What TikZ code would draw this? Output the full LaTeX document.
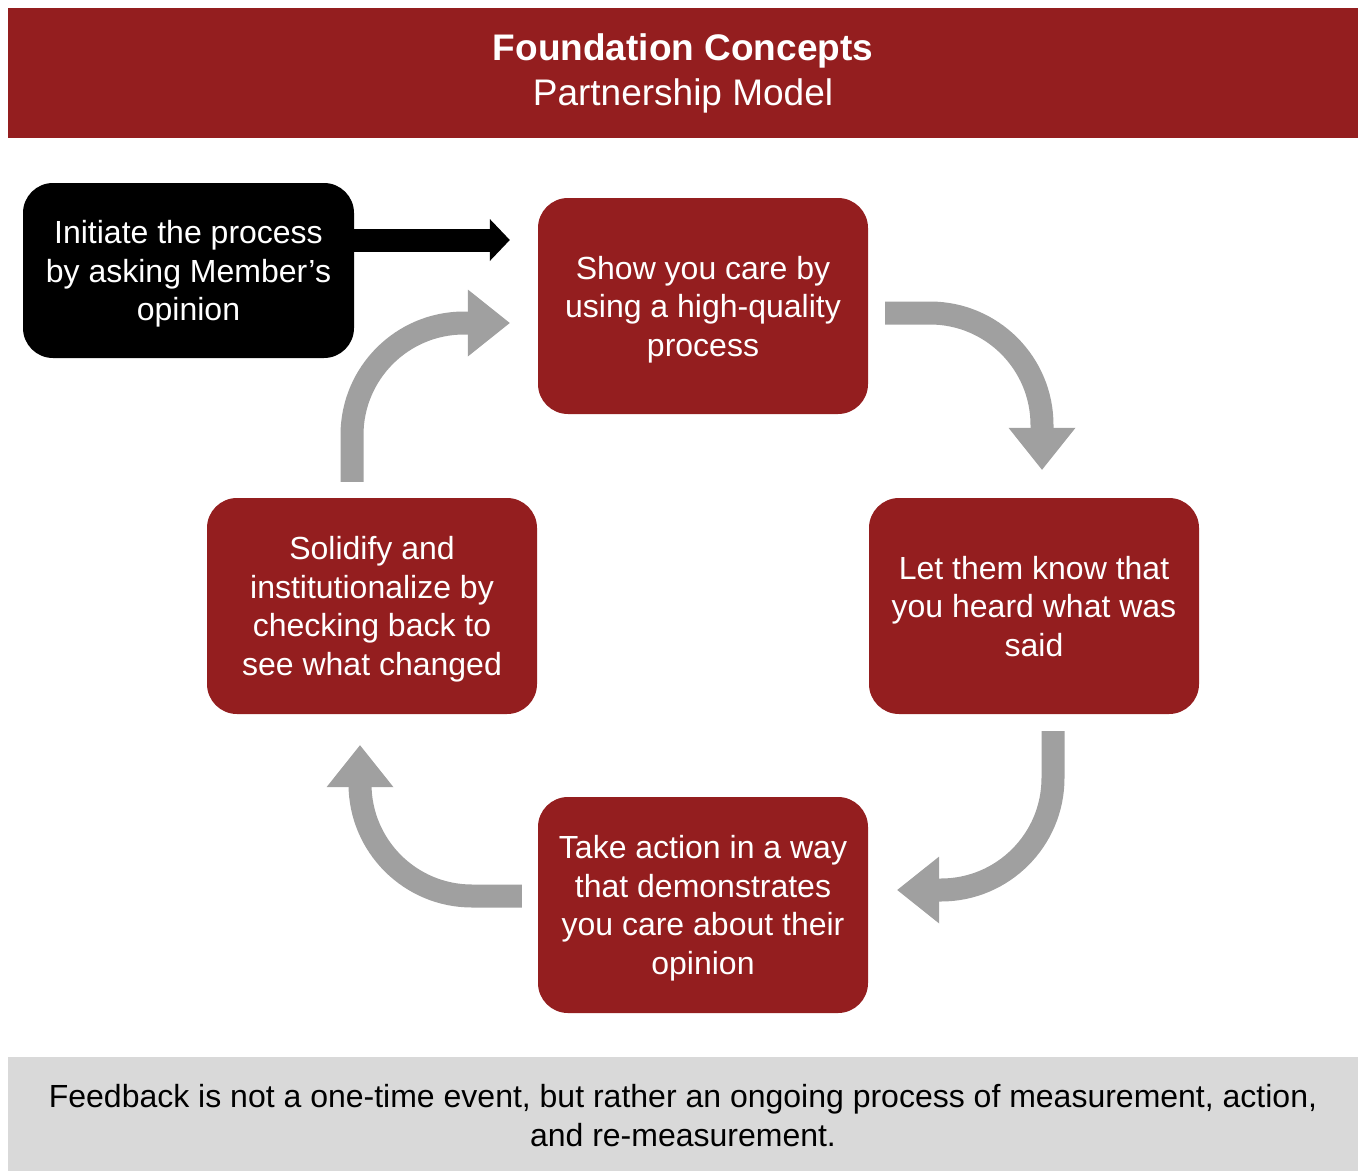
\documentclass[tikz,border=0pt]{standalone}
\usepackage{fontspec}
\setmainfont{Liberation Sans}
\usepackage{xcolor}
\usepackage{tikz}
\usetikzlibrary{arrows.meta, calc}
\definecolor{brickred}{RGB}{148, 30, 31}
\definecolor{arrowgray}{RGB}{160, 160, 160}
\definecolor{notegray}{RGB}{217, 217, 217}

\tikzset{
    stepbox/.style={fill=brickred, text=white, rounded corners=30pt, minimum width=330pt, minimum height=216pt, inner sep=0pt, text depth=0pt, align=center, font=\fontsize{32}{38.5}\selectfont},
    startbox/.style={stepbox, fill=black, minimum width=331pt, minimum height=175pt},
    cyclearrow/.style={draw=arrowgray, line width=23pt, rounded corners=112pt, -{Triangle[length=42pt, width=67pt, line width=0pt]}},
    startarrow/.style={draw=black, line width=23pt, -{Triangle[length=20pt, width=42pt, line width=0pt]}}
}

\begin{document}
\begin{tikzpicture}[x=1pt, y=-1pt]
    \useasboundingbox (0,0) rectangle (1360,1170);

    % Title
    \node[fill=brickred, text=white, minimum width=1350pt, minimum height=130pt, inner sep=0pt, align=center, font=\fontsize{37}{45}\selectfont] (banner) at (683,73) {\textbf{Foundation Concepts}\\Partnership Model};

    % Steps of the cycle
    \node[startbox] (init) at (188.5,270.5) {Initiate the process\\by asking Member’s\\opinion};
    \node[stepbox] (care) at (703,306) {Show you care by\\using a high-quality\\process};
    \node[stepbox] (heard) at (1034,606) {Let them know that\\you heard what was\\said};
    \node[stepbox] (act) at (703,905) {Take action in a way\\that demonstrates\\you care about their\\opinion};
    \node[stepbox] (solid) at (372,606) {Solidify and\\institutionalize by\\checking back to\\see what changed};

    % Arrows
    \draw[startarrow] ($(init.east)+(0,-30.5)$) -- ($(care.west)+(-28,-66)$);
    \draw[cyclearrow] ($(care.east)+(17,7)$) -| ($(heard.north)+(8,-28)$);
    \draw[cyclearrow] ($(heard.south)+(19,17)$) |- ($(act.east)+(29,-15)$);
    \draw[cyclearrow] ($(act.west)+(-16,-9)$) -| ($(solid.south)+(-12,31)$);
    \draw[cyclearrow] ($(solid.north)+(-20,-16)$) |- ($(care.west)+(-28,17)$);

    % Footer
    \node[fill=notegray, minimum width=1350pt, minimum height=117pt, inner sep=0pt, align=center, font=\fontsize{32}{39}\selectfont] (note) at (683,1115.5) {Feedback is not a one-time event, but rather an ongoing process of measurement, action,\\and re-measurement.};
\end{tikzpicture}
\end{document}
